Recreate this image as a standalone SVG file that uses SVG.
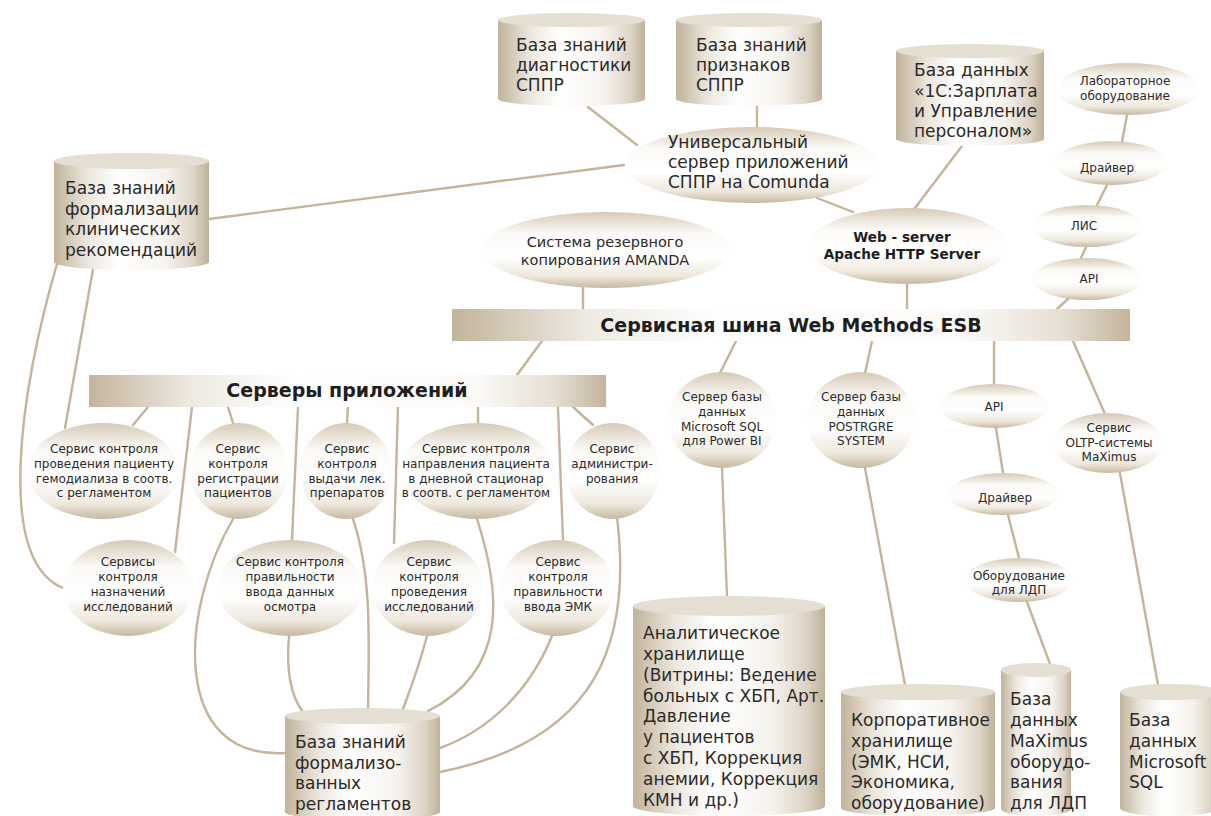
<svg xmlns="http://www.w3.org/2000/svg" width="1211" height="816" viewBox="0 0 1211 816">
  <defs>
    <linearGradient id="ovalFill" x1="0" y1="0" x2="0" y2="1">
      <stop offset="0" stop-color="#d6cab7"/>
      <stop offset="0.28" stop-color="#fbfaf7"/>
      <stop offset="0.6" stop-color="#ffffff"/>
      <stop offset="0.84" stop-color="#eee8de"/>
      <stop offset="1" stop-color="#c7b9a1"/>
    </linearGradient>
    <linearGradient id="drumBody" x1="0" y1="0" x2="1" y2="0">
      <stop offset="0" stop-color="#c1b39b"/>
      <stop offset="0.22" stop-color="#ece7de"/>
      <stop offset="0.42" stop-color="#ffffff"/>
      <stop offset="0.72" stop-color="#f6f3ee"/>
      <stop offset="0.9" stop-color="#ddd4c6"/>
      <stop offset="1" stop-color="#bfb199"/>
    </linearGradient>
    <linearGradient id="barFill" x1="0" y1="0" x2="1" y2="0">
      <stop offset="0" stop-color="#c3b49b"/>
      <stop offset="0.2" stop-color="#eeeae3"/>
      <stop offset="0.4" stop-color="#ffffff"/>
      <stop offset="0.75" stop-color="#fbfaf8"/>
      <stop offset="0.9" stop-color="#e6dfd4"/>
      <stop offset="1" stop-color="#c3b49b"/>
    </linearGradient>
  </defs>
  <style>
    .wire { fill: none; stroke: #c4b49a; stroke-width: 2.4; stroke-linecap: round; }
    .oval { fill: url(#ovalFill); }
    .drum { fill: url(#drumBody); }
    .lid { fill: #e4ded3; }
    .bar { fill: url(#barFill); }
    text { font-family: "DejaVu Sans", "Liberation Sans", sans-serif; fill: #2a2a2a; }
    .sm { font-size: 12px; text-anchor: middle; }
    .md { font-size: 14.5px; text-anchor: middle; }
    .lg { font-size: 17px; }
    .hd { font-size: 19px; font-weight: bold; text-anchor: middle; fill: #1e1e1e; }
    .ws { font-size: 13.6px; font-weight: bold; text-anchor: middle; fill: #1e1e1e; }
  </style>
  <rect width="1211" height="816" fill="#ffffff"/>

  <!-- connectors -->
  <g id="connectors">
    <path class="wire" d="M588,107 L637,145"/>
    <path class="wire" d="M757,107 L757,127"/>
    <path class="wire" d="M209,219 L624,165"/>
    <path class="wire" d="M817,198 L853,212"/>
    <path class="wire" d="M962,146 L915,208"/>
    <path class="wire" d="M907,284 L907,309"/>
    <path class="wire" d="M583,288 L583,309"/>
    <path class="wire" d="M1127,115 L1122,142"/>
    <path class="wire" d="M1107,185 L1097,205"/>
    <path class="wire" d="M1086,247 L1081,258"/>
    <path class="wire" d="M1069,298 L1057,309"/>
    <path class="wire" d="M542,341 L517,375"/>
    <path class="wire" d="M736,341 L720,373"/>
    <path class="wire" d="M872,341 L865,373"/>
    <path class="wire" d="M994,341 L994,385"/>
    <path class="wire" d="M1073,341 L1105,414"/>
    <path class="wire" d="M722,468 L727,597"/>
    <path class="wire" d="M865,468 L905,685"/>
    <path class="wire" d="M996,428 L1003,473"/>
    <path class="wire" d="M1008,515 L1019,558"/>
    <path class="wire" d="M1027,602 L1050,664"/>
    <path class="wire" d="M1120,473 L1158,685"/>
    <path class="wire" d="M148,407 L133,425"/>
    <path class="wire" d="M228,407 L233,423"/>
    <path class="wire" d="M192,407 L175,552"/>
    <path class="wire" d="M298,407 L292,540"/>
    <path class="wire" d="M348,407 L347,423"/>
    <path class="wire" d="M398,407 L394,543"/>
    <path class="wire" d="M478,407 L478,423"/>
    <path class="wire" d="M558,407 L563,541"/>
    <path class="wire" d="M573,407 L593,425"/>
    <path class="wire" d="M93,269 L65,428"/>
    <path class="wire" d="M57,264 C20,390 -5,560 63,588"/>
    <path class="wire" d="M233,519 C180,610 170,760 285,753"/>
    <path class="wire" d="M289,636 C286,670 290,695 303,712"/>
    <path class="wire" d="M353,519 C372,575 369,640 368,710"/>
    <path class="wire" d="M427,636 C418,670 410,690 403,709"/>
    <path class="wire" d="M477,519 C500,590 510,670 428,711"/>
    <path class="wire" d="M552,636 C530,690 490,730 440,748"/>
    <path class="wire" d="M617,517 C632,640 600,740 440,772"/>
  </g>

  <!-- bus bars -->
  <g id="esb">
    <rect class="bar" x="452" y="309" width="678" height="32"/>
    <text class="hd" x="791" y="332" font-size="17.7">Сервисная шина Web Methods ESB</text>
  </g>
  <g id="app-servers">
    <rect class="bar" x="89" y="375" width="517" height="32"/>
    <text class="hd" x="347" y="397">Серверы приложений</text>
  </g>

  <!-- storage drums -->
  <g id="kb-diagnostics">
    <path class="drum" d="M498,20 L498,99 A73.5,7 0 0 0 645,99 L645,20 Z"/>
    <ellipse class="lid" cx="571.5" cy="20" rx="73.5" ry="7"/>
    <text class="lg" x="516" y="51">База знаний</text>
    <text class="lg" x="516" y="71">диагностики</text>
    <text class="lg" x="516" y="91">СППР</text>
  </g>
  <g id="kb-signs">
    <path class="drum" d="M676,20 L676,99 A73,7 0 0 0 822,99 L822,20 Z"/>
    <ellipse class="lid" cx="749" cy="20" rx="73" ry="7"/>
    <text class="lg" x="696" y="51">База знаний</text>
    <text class="lg" x="696" y="71">признаков</text>
    <text class="lg" x="696" y="91">СППР</text>
  </g>
  <g id="db-1c">
    <path class="drum" d="M896,51 L896,139 A74,7 0 0 0 1044,139 L1044,51 Z"/>
    <ellipse class="lid" cx="970" cy="51" rx="74" ry="7"/>
    <text class="lg" x="914" y="76">База данных</text>
    <text class="lg" x="914" y="97">«1С:Зарплата</text>
    <text class="lg" x="914" y="117">и Управление</text>
    <text class="lg" x="914" y="137">персоналом»</text>
  </g>
  <g id="kb-guidelines">
    <path class="drum" d="M54,161 L54,262 A77.5,8 0 0 0 209,262 L209,161 Z"/>
    <ellipse class="lid" cx="131.5" cy="161" rx="77.5" ry="8"/>
    <text class="lg" x="65" y="194">База знаний</text>
    <text class="lg" x="65" y="215">формализации</text>
    <text class="lg" x="65" y="235">клинических</text>
    <text class="lg" x="65" y="256">рекомендаций</text>
  </g>
  <g id="kb-regulations">
    <path class="drum" d="M285,716 L285,812 A77.5,8 0 0 0 440,812 L440,716 Z"/>
    <ellipse class="lid" cx="362.5" cy="716" rx="77.5" ry="8"/>
    <text class="lg" x="295" y="748">База знаний</text>
    <text class="lg" x="295" y="768.5">формализо-</text>
    <text class="lg" x="295" y="789">ванных</text>
    <text class="lg" x="295" y="809.5">регламентов</text>
  </g>
  <g id="analytics-store">
    <path class="drum" d="M633,606 L633,806 A96,10 0 0 0 825,806 L825,606 Z"/>
    <ellipse class="lid" cx="729" cy="606" rx="96" ry="10"/>
    <text class="lg" x="643" y="639">Аналитическое</text>
    <text class="lg" x="643" y="660">хранилище</text>
    <text class="lg" x="643" y="681">(Витрины: Ведение</text>
    <text class="lg" x="643" y="702">больных с ХБП, Арт.</text>
    <text class="lg" x="643" y="722">Давление</text>
    <text class="lg" x="643" y="743">у пациентов</text>
    <text class="lg" x="643" y="764">с ХБП, Коррекция</text>
    <text class="lg" x="643" y="785">анемии, Коррекция</text>
    <text class="lg" x="643" y="806">КМН и др.)</text>
  </g>
  <g id="corporate-store">
    <path class="drum" d="M841,692 L841,808 A77,8 0 0 0 995,808 L995,692 Z"/>
    <ellipse class="lid" cx="918" cy="692" rx="77" ry="8"/>
    <text class="lg" x="851" y="726">Корпоративное</text>
    <text class="lg" x="851" y="747">хранилище</text>
    <text class="lg" x="851" y="768">(ЭМК, НСИ,</text>
    <text class="lg" x="851" y="788">Экономика,</text>
    <text class="lg" x="851" y="809">оборудование)</text>
  </g>
  <g id="db-maximus">
    <path class="drum" d="M1001,670 L1001,809 A35,7 0 0 0 1071,809 L1071,670 Z"/>
    <ellipse class="lid" cx="1036" cy="670" rx="35" ry="7"/>
    <text class="lg" x="1010" y="705">База</text>
    <text class="lg" x="1010" y="726">данных</text>
    <text class="lg" x="1010" y="747">MaXimus</text>
    <text class="lg" x="1010" y="768">оборудо-</text>
    <text class="lg" x="1010" y="788">вания</text>
    <text class="lg" x="1010" y="809">для ЛДП</text>
  </g>
  <g id="db-mssql">
    <path class="drum" d="M1120,692 L1120,808 A50,8 0 0 0 1220,808 L1220,692 Z"/>
    <ellipse class="lid" cx="1170" cy="692" rx="50" ry="8"/>
    <text class="lg" x="1129" y="726">База</text>
    <text class="lg" x="1129" y="747">данных</text>
    <text class="lg" x="1129" y="768">Microsoft</text>
    <text class="lg" x="1129" y="788">SQL</text>
  </g>

  <!-- oval nodes -->
  <g id="camunda-server">
    <ellipse class="oval" cx="752" cy="165" rx="127" ry="38"/>
    <text class="lg" x="668" y="148">Универсальный</text>
    <text class="lg" x="668" y="168">сервер приложений</text>
    <text class="lg" x="668" y="188">СППР на Comunda</text>
  </g>
  <g id="backup">
    <ellipse class="oval" cx="606" cy="250" rx="124" ry="38"/>
    <text class="md" x="605" y="247">Система резервного</text>
    <text class="md" x="605" y="265">копирования AMANDA</text>
  </g>
  <g id="web-server">
    <ellipse class="oval" cx="908" cy="246" rx="99" ry="38"/>
    <text class="ws" x="902" y="242">Web - server</text>
    <text class="ws" x="902" y="259">Apache HTTP Server</text>
  </g>
  <g id="lab-equipment">
    <ellipse class="oval" cx="1128" cy="89" rx="71" ry="26"/>
    <text class="sm" x="1125" y="85">Лабораторное</text>
    <text class="sm" x="1125" y="100">оборудование</text>
  </g>
  <g id="lab-driver">
    <ellipse class="oval" cx="1111" cy="163" rx="56" ry="22"/>
    <text class="sm" x="1107" y="172">Драйвер</text>
  </g>
  <g id="lis">
    <ellipse class="oval" cx="1087" cy="226" rx="55" ry="21"/>
    <text class="sm" x="1084" y="230">ЛИС</text>
  </g>
  <g id="lis-api">
    <ellipse class="oval" cx="1087" cy="279" rx="55" ry="21"/>
    <text class="sm" x="1089" y="283">API</text>
  </g>

  <g id="svc-dialysis">
    <ellipse class="oval" cx="103" cy="471" rx="76" ry="48"/>
    <text class="sm" x="104" y="453">Сервис контроля</text>
    <text class="sm" x="104" y="468">проведения пациенту</text>
    <text class="sm" x="104" y="483">гемодиализа в соотв.</text>
    <text class="sm" x="104" y="497">с регламентом</text>
  </g>
  <g id="svc-registration">
    <ellipse class="oval" cx="239" cy="471" rx="49" ry="48"/>
    <text class="sm" x="238" y="453">Сервис</text>
    <text class="sm" x="238" y="468">контроля</text>
    <text class="sm" x="238" y="483">регистрации</text>
    <text class="sm" x="238" y="497">пациентов</text>
  </g>
  <g id="svc-drugs">
    <ellipse class="oval" cx="346" cy="471" rx="46" ry="48"/>
    <text class="sm" x="347" y="453">Сервис</text>
    <text class="sm" x="347" y="468">контроля</text>
    <text class="sm" x="347" y="483">выдачи лек.</text>
    <text class="sm" x="347" y="497">препаратов</text>
  </g>
  <g id="svc-day-hospital">
    <ellipse class="oval" cx="477" cy="471" rx="77" ry="48"/>
    <text class="sm" x="476" y="453">Сервис контроля</text>
    <text class="sm" x="476" y="468">направления пациента</text>
    <text class="sm" x="476" y="483">в дневной стационар</text>
    <text class="sm" x="476" y="497">в соотв. с регламентом</text>
  </g>
  <g id="svc-admin">
    <ellipse class="oval" cx="613" cy="471" rx="47" ry="48"/>
    <text class="sm" x="612" y="453">Сервис</text>
    <text class="sm" x="612" y="468">администри-</text>
    <text class="sm" x="612" y="483">рования</text>
  </g>
  <g id="svc-orders">
    <ellipse class="oval" cx="128" cy="588" rx="65" ry="48"/>
    <text class="sm" x="128" y="566">Сервисы</text>
    <text class="sm" x="128" y="581">контроля</text>
    <text class="sm" x="128" y="596">назначений</text>
    <text class="sm" x="128" y="611">исследований</text>
  </g>
  <g id="svc-exam">
    <ellipse class="oval" cx="290" cy="588" rx="73" ry="48"/>
    <text class="sm" x="290" y="566">Сервис контроля</text>
    <text class="sm" x="290" y="581">правильности</text>
    <text class="sm" x="290" y="596">ввода данных</text>
    <text class="sm" x="290" y="611">осмотра</text>
  </g>
  <g id="svc-studies">
    <ellipse class="oval" cx="428" cy="588" rx="56" ry="48"/>
    <text class="sm" x="429" y="566">Сервис</text>
    <text class="sm" x="429" y="581">контроля</text>
    <text class="sm" x="429" y="596">проведения</text>
    <text class="sm" x="429" y="611">исследований</text>
  </g>
  <g id="svc-emr">
    <ellipse class="oval" cx="557" cy="588" rx="57" ry="48"/>
    <text class="sm" x="558" y="566">Сервис</text>
    <text class="sm" x="558" y="581">контроля</text>
    <text class="sm" x="558" y="596">правильности</text>
    <text class="sm" x="558" y="611">ввода ЭМК</text>
  </g>

  <g id="mssql-server">
    <ellipse class="oval" cx="722" cy="420" rx="54" ry="48"/>
    <text class="sm" x="722" y="401">Сервер базы</text>
    <text class="sm" x="722" y="416">данных</text>
    <text class="sm" x="722" y="431">Microsoft SQL</text>
    <text class="sm" x="722" y="445">для Power BI</text>
  </g>
  <g id="postgres-server">
    <ellipse class="oval" cx="861" cy="420" rx="54" ry="48"/>
    <text class="sm" x="861" y="401">Сервер базы</text>
    <text class="sm" x="861" y="416">данных</text>
    <text class="sm" x="861" y="431">POSTRGRE</text>
    <text class="sm" x="861" y="445">SYSTEM</text>
  </g>
  <g id="equip-api">
    <ellipse class="oval" cx="994" cy="406" rx="54" ry="22"/>
    <text class="sm" x="994" y="411">API</text>
  </g>
  <g id="oltp-maximus">
    <ellipse class="oval" cx="1108" cy="443" rx="55" ry="30"/>
    <text class="sm" x="1109" y="432">Сервис</text>
    <text class="sm" x="1109" y="447">OLTP-системы</text>
    <text class="sm" x="1109" y="461">MaXimus</text>
  </g>
  <g id="equip-driver">
    <ellipse class="oval" cx="1003" cy="494" rx="55" ry="21"/>
    <text class="sm" x="1005" y="502">Драйвер</text>
  </g>
  <g id="ldp-equipment">
    <ellipse class="oval" cx="1019" cy="580" rx="54" ry="22"/>
    <text class="sm" x="1019" y="580" font-size="11.5">Оборудование</text>
    <text class="sm" x="1019" y="594" font-size="11.5">для ЛДП</text>
  </g>
</svg>
